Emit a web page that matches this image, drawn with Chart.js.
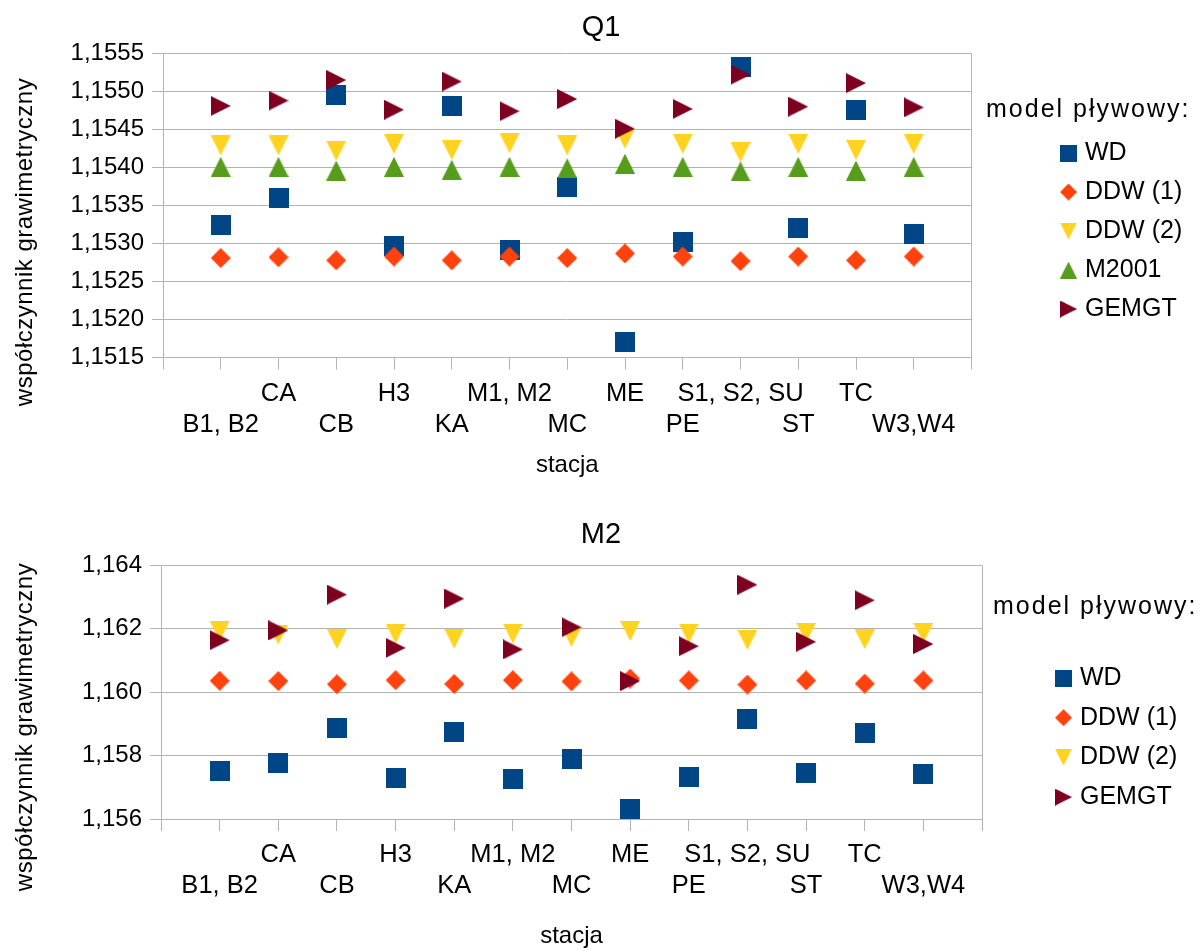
<!DOCTYPE html>
<html>
<head>
<meta charset="utf-8">
<script src="https://cdn.jsdelivr.net/npm/chart.js@4.4.1/dist/chart.umd.min.js"></script>
<style>
  body { margin: 0; background: #fff; }
  #wrap { position: relative; width: 1202px; height: 951px; }
  canvas { position: absolute; left: 0; }
</style>
</head>
<body>
<div id="wrap">
  <canvas id="chartQ1" width="1202" height="480" style="top:0"></canvas>
  <canvas id="chartM2" width="1202" height="471" style="top:480px"></canvas>
</div>
<script>
// stacje (oś X)
const stacje = ['B1, B2', 'CA', 'CB', 'H3', 'KA', 'M1, M2', 'MC', 'ME', 'PE', 'S1, S2, SU', 'ST', 'TC', 'W3,W4'];

// Q1 - współczynniki
const q1WD    = [1.15324, 1.15360, 1.15495, 1.15297, 1.15481, 1.15292, 1.15374, 1.15171, 1.15302, 1.15532, 1.15320, 1.15476, 1.15312];
const q1DDW1  = [1.15281, 1.15282, 1.15278, 1.15283, 1.15278, 1.15283, 1.15281, 1.15287, 1.15283, 1.15277, 1.15283, 1.15278, 1.15283];
const q1DDW2  = [1.15429, 1.15429, 1.15422, 1.15431, 1.15423, 1.15432, 1.15429, 1.15438, 1.15431, 1.15420, 1.15431, 1.15423, 1.15431];
const q1M2001 = [1.15401, 1.15401, 1.15396, 1.15401, 1.15397, 1.15401, 1.15399, 1.15405, 1.15401, 1.15395, 1.15401, 1.15396, 1.15401];
const q1GEMGT = [1.15481, 1.15488, 1.15515, 1.15476, 1.15513, 1.15474, 1.15490, 1.15451, 1.15477, 1.15522, 1.15480, 1.15511, 1.15479];

// M2 - współczynniki
const m2WD    = [1.15751, 1.15778, 1.15886, 1.15730, 1.15875, 1.15726, 1.15790, 1.15630, 1.15733, 1.15914, 1.15746, 1.15871, 1.15741];
const m2DDW1  = [1.16036, 1.16035, 1.16025, 1.16038, 1.16026, 1.16038, 1.16034, 1.16043, 1.16037, 1.16024, 1.16037, 1.16027, 1.16037];
const m2DDW2  = [1.16193, 1.16182, 1.16168, 1.16185, 1.16169, 1.16185, 1.16174, 1.16193, 1.16185, 1.16165, 1.16188, 1.16167, 1.16187];
const m2GEMGT = [1.16164, 1.16195, 1.16308, 1.16140, 1.16295, 1.16135, 1.16205, 1.16035, 1.16145, 1.16339, 1.16159, 1.16290, 1.16152];

// zakresy osi Y
const q1YTicks = { min: 1.1515, max: 1.1555, step: 0.0005, decimals: 4 };
const m2YTicks = { min: 1.156, max: 1.164, step: 0.002, decimals: 3 };

const FONT = '"Liberation Sans", Arial, sans-serif';
const GRID = '#b3b3b3';
Chart.defaults.font.family = FONT;
Chart.defaults.color = '#000';

function marker(kind, fill) {
  const c = document.createElement('canvas');
  c.width = 20; c.height = 20;
  const g = c.getContext('2d');
  g.fillStyle = fill;
  g.beginPath();
  if (kind === 'square') g.rect(0, 0, 20, 20);
  else if (kind === 'diamond') { g.moveTo(10, 0); g.lineTo(20, 10); g.lineTo(10, 20); g.lineTo(0, 10); }
  else if (kind === 'down') { g.moveTo(0, 0); g.lineTo(20, 0); g.lineTo(10, 20); }
  else if (kind === 'up') { g.moveTo(10, 0); g.lineTo(20, 20); g.lineTo(0, 20); }
  else { g.moveTo(0, 0); g.lineTo(20, 10); g.lineTo(0, 20); }
  g.closePath();
  g.fill();
  return c;
}

const markers = {
  'WD': marker('square', '#004586'),
  'DDW (1)': marker('diamond', '#ff420e'),
  'DDW (2)': marker('down', '#ffd320'),
  'M2001': marker('up', '#579d1c'),
  'GEMGT': marker('right', '#7e0021')
};

// tytuł osi Y (wyśrodkowany jak w LibreOffice)
const yTitlePlugin = {
  id: 'yTitle',
  afterDraw(chart, args, opts) {
    const ctx = chart.ctx;
    ctx.save();
    ctx.translate(opts.x, opts.y);
    ctx.rotate(-Math.PI / 2);
    ctx.font = '24px ' + FONT;
    ctx.letterSpacing = '0.5px';
    ctx.fillStyle = '#000';
    ctx.textAlign = 'center';
    ctx.textBaseline = 'middle';
    ctx.fillText(opts.text, 0, 0);
    ctx.restore();
  }
};

// legenda po prawej
const sideLegendPlugin = {
  id: 'sideLegend',
  afterDraw(chart, args, opts) {
    const ctx = chart.ctx;
    ctx.save();
    ctx.fillStyle = '#000';
    ctx.textBaseline = 'middle';
    ctx.font = '25px ' + FONT;
    ctx.letterSpacing = '2px';
    ctx.fillText(opts.title, opts.titleX, opts.titleY);
    ctx.letterSpacing = '0px';
    chart.data.datasets.forEach((ds, i) => {
      const y = opts.itemY + i * opts.itemStep;
      ctx.drawImage(ds.pointStyle, opts.markX, y - 8.5, 17, 17);
      ctx.fillText(ds.label, opts.textX, y);
    });
    ctx.restore();
  }
};

function buildChart(id, o) {
  const last = stacje.length + 1;
  return new Chart(document.getElementById(id), {
    type: 'scatter',
    data: {
      datasets: o.series.map((s, k) => ({
        label: s.name,
        data: s.values.map((v, i) => ({ x: i + 1, y: v })),
        pointStyle: markers[s.name],
        pointRadius: 10,
        pointHoverRadius: 10,
        showLine: false,
        order: o.series.length - k
      }))
    },
    options: {
      responsive: false,
      animation: false,
      events: [],
      layout: { padding: 0 },
      plugins: {
        legend: { display: false },
        tooltip: { enabled: false },
        title: {
          display: true,
          text: o.title,
          color: '#000',
          font: { size: 29, weight: 'normal' },
          padding: { top: o.titleTop, bottom: o.titleBottom }
        },
        yTitle: { text: 'współczynnik grawimetryczny', x: 25, y: o.yTitleY },
        sideLegend: o.legend
      },
      scales: {
        x: {
          type: 'linear',
          min: 0,
          max: last,
          afterFit: (s) => { s.height = o.xHeight; },
          grid: {
            color: (c) => (c.tick && (c.tick.value === 0 || c.tick.value === last)) ? GRID : 'rgba(0,0,0,0)',
            tickColor: GRID,
            tickLength: 12
          },
          border: { display: true, color: GRID },
          ticks: {
            stepSize: 1,
            maxTicksLimit: 30,
            autoSkip: false,
            maxRotation: 0,
            minRotation: 0,
            padding: 8.8,
            font: { size: 25.5, lineHeight: 1.216 },
            callback: (v) => {
              const i = v - 1;
              if (i < 0 || i >= stacje.length) return '';
              return i % 2 === 0 ? ['', stacje[i]] : [stacje[i], ''];
            }
          },
          title: { display: true, text: 'stacja', font: { size: 24 }, padding: { top: 0, bottom: 0 } }
        },
        y: {
          min: o.yTicks.min,
          max: o.yTicks.max,
          afterFit: (s) => { s.width = o.yWidth; },
          grid: { color: GRID, tickLength: 11 },
          border: { color: GRID },
          ticks: {
            stepSize: o.yTicks.step,
            maxTicksLimit: 30,
            padding: 8,
            font: { size: 24 },
            callback: (v) => v.toFixed(o.yTicks.decimals).replace('.', ',')
          }
        },
        // miejsce na legendę po prawej
        legendSpace: {
          position: 'right',
          afterFit: (s) => { s.width = o.rightSpace; },
          grid: { display: false },
          border: { display: false },
          ticks: { display: false }
        }
      }
    },
    plugins: [yTitlePlugin, sideLegendPlugin]
  });
}

buildChart('chartQ1', {
  title: 'Q1',
  titleTop: 10.6,
  titleBottom: 8,
  rightSpace: 230.5,
  yWidth: 163,
  xHeight: 122.3,
  yTitleY: 242,
  yTicks: q1YTicks,
  series: [
    { name: 'WD', values: q1WD },
    { name: 'DDW (1)', values: q1DDW1 },
    { name: 'DDW (2)', values: q1DDW2 },
    { name: 'M2001', values: q1M2001 },
    { name: 'GEMGT', values: q1GEMGT }
  ],
  legend: { title: 'model pływowy:', titleX: 986, titleY: 110, markX: 1060, textX: 1085, itemY: 153, itemStep: 39 }
});

buildChart('chartM2', {
  title: 'M2',
  titleTop: 37.6,
  titleBottom: 13,
  rightSpace: 220,
  yWidth: 161,
  xHeight: 132,
  yTitleY: 247,
  yTicks: m2YTicks,
  series: [
    { name: 'WD', values: m2WD },
    { name: 'DDW (1)', values: m2DDW1 },
    { name: 'DDW (2)', values: m2DDW2 },
    { name: 'GEMGT', values: m2GEMGT }
  ],
  legend: { title: 'model pływowy:', titleX: 993, titleY: 127, markX: 1055, textX: 1080, itemY: 198, itemStep: 39.7 }
});
</script>
</body>
</html>
